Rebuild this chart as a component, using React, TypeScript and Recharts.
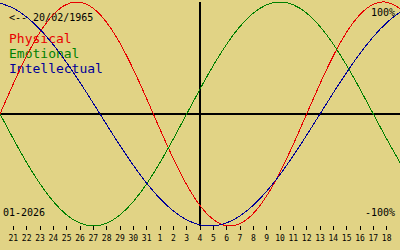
import React from "react";
import { LineChart, Line, XAxis, YAxis, ReferenceLine, Customized } from "recharts";

// day offsets relative to the marked day (04-01-2026), from 20-12-2025 to 19-01-2026
const dayOffsets = [-15, -14, -13, -12, -11, -10, -9, -8, -7, -6, -5, -4, -3, -2, -1, 0, 1, 2, 3, 4, 5, 6, 7, 8, 9, 10, 11, 12, 13, 14, 15];

const physical = [0, 0.2698, 0.5196, 0.7308, 0.8879, 0.9791, 0.9977, 0.9423, 0.817, 0.6311, 0.3984, 0.1362, -0.1362, -0.3984, -0.6311, -0.817, -0.9423, -0.9977, -0.9791, -0.8879, -0.7308, -0.5196, -0.2698, 0, 0.2698, 0.5196, 0.7308, 0.8879, 0.9791, 0.9977, 0.9423];

const emotional = [0, -0.2225, -0.4339, -0.6235, -0.7818, -0.901, -0.9749, -1, -0.9749, -0.901, -0.7818, -0.6235, -0.4339, -0.2225, 0, 0.2225, 0.4339, 0.6235, 0.7818, 0.901, 0.9749, 1, 0.9749, 0.901, 0.7818, 0.6235, 0.4339, 0.2225, 0, -0.2225, -0.4339];

const intellectual = [0.9898, 0.945, 0.866, 0.7557, 0.6182, 0.4582, 0.2817, 0.0951, -0.0951, -0.2817, -0.4582, -0.6182, -0.7557, -0.866, -0.945, -0.9898, -0.9989, -0.9718, -0.9096, -0.8146, -0.6901, -0.5406, -0.3717, -0.1893, 0, 0.1893, 0.3717, 0.5406, 0.6901, 0.8146, 0.9096];

const tickOffsets = [-14, -13, -12, -11, -10, -9, -8, -7, -6, -5, -4, -3, -2, -1, 0, 1, 2, 3, 4, 5, 6, 7, 8, 9, 10, 11, 12, 13, 14];
const tickLabels = ["21", "22", "23", "24", "25", "26", "27", "28", "29", "30", "31", "1", "2", "3", "4", "5", "6", "7", "8", "9", "10", "11", "12", "13", "14", "15", "16", "17", "18"];

const birthLabel = "<-- 20/02/1965";
const monthLabel = "01-2026";
const seriesNames = ["Physical", "Emotional", "Intellectual"];
const topLabel = "100%";
const bottomLabel = "-100%";

const data = dayOffsets.map((d, i) => ({
  d,
  physical: physical[i],
  emotional: emotional[i],
  intellectual: intellectual[i],
}));

const RED = "#e80000";
const GREEN = "#008000";
const BLUE = "#000098";
const FONT = "DejaVu Sans Mono";

const Labels = () => (
  <g fontFamily={FONT}>
    <text x={9} y={21} fontSize={10} fill="#000">{birthLabel}</text>
    <text x={9} y={43} fontSize={13} fill={RED}>{seriesNames[0]}</text>
    <text x={9} y={58} fontSize={13} fill={GREEN}>{seriesNames[1]}</text>
    <text x={9} y={73} fontSize={13} fill={BLUE}>{seriesNames[2]}</text>
    <text x={395} y={16} fontSize={10} fill="#000" textAnchor="end">{topLabel}</text>
    <text x={395} y={216} fontSize={10} fill="#000" textAnchor="end">{bottomLabel}</text>
    <text x={3} y={216} fontSize={10} fill="#000">{monthLabel}</text>
  </g>
);

export default function App() {
  return (
    <div style={{ position: "absolute", left: 0, top: 0, width: 400, height: 250, background: "#e1d385" }}>
      <LineChart width={400} height={250} data={data} margin={{ top: 2, right: 0, bottom: 0, left: 0 }}>
        <XAxis
          dataKey="d"
          type="number"
          domain={[-15, 15]}
          ticks={tickOffsets}
          tickFormatter={(v: number) => tickLabels[tickOffsets.indexOf(v)] ?? ""}
          height={24}
          axisLine={false}
          tickLine={{ stroke: "#000", strokeWidth: 1, shapeRendering: "crispEdges" }}
          tickSize={4}
          tickMargin={5}
          interval={0}
          tick={{ fill: "#000", fontSize: 8, fontFamily: FONT }}
        />
        <YAxis hide domain={[-1, 1]} />
        <ReferenceLine y={0} stroke="#000" strokeWidth={2} shapeRendering="crispEdges" />
        <ReferenceLine x={0} stroke="#000" strokeWidth={2} shapeRendering="crispEdges" />
        <Line type="natural" dataKey="physical" stroke={RED} strokeWidth={1} shapeRendering="crispEdges" dot={false} isAnimationActive={false} />
        <Line type="natural" dataKey="emotional" stroke={GREEN} strokeWidth={1} shapeRendering="crispEdges" dot={false} isAnimationActive={false} />
        <Line type="natural" dataKey="intellectual" stroke={BLUE} strokeWidth={1} shapeRendering="crispEdges" dot={false} isAnimationActive={false} />
        <Customized component={Labels} />
      </LineChart>
    </div>
  );
}
